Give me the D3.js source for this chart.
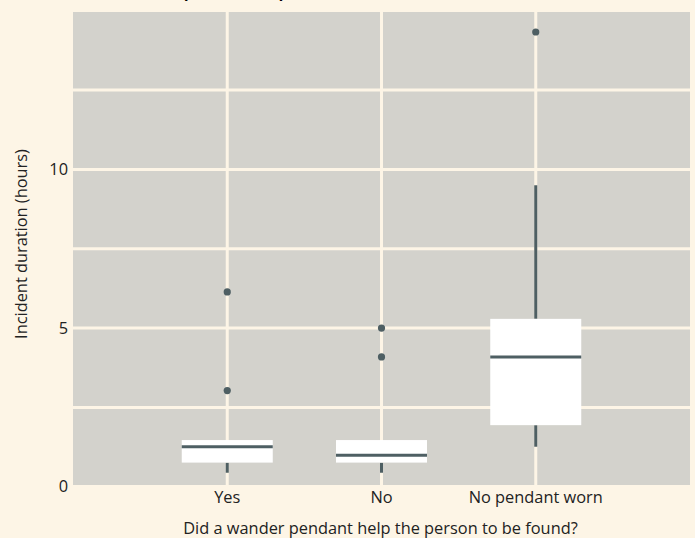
<!DOCTYPE html>
<html>
<head>
<meta charset="utf-8">
<script src="https://cdn.jsdelivr.net/npm/d3@7"></script>
<style>
  body { margin: 0; background: #fdf5e6; }
  svg { display: block; font-family: "Open Sans", "Noto Sans", sans-serif; }
</style>
</head>
<body>
<svg width="695" height="538"></svg>
<script>
// data (hours)
const categories = ['Yes', 'No', 'No pendant worn'];
const lowerWhisker = [0.44, 0.44, 1.26];
const q1 = [0.76, 0.76, 1.94];
const median = [1.26, 0.99, 4.09];
const q3 = [1.47, 1.47, 5.29];
const upperWhisker = [1.47, 1.47, 9.5];
const outliers = [[3.03, 6.14], [4.09, 5.0], [14.33]];
const yTicks = [0, 5, 10];
const yMinor = [2.5, 7.5, 12.5];

const svg = d3.select('svg');
const panel = { left: 73, right: 690, top: 12, bottom: 485 };
const ink = '#4e5f63';
const cream = '#fdf5e6';
const textCol = '#222';

const x = d3.scalePoint()
    .domain(categories)
    .range([panel.left, panel.right])
    .padding(1);
const y = d3.scaleLinear()
    .domain([0.054, 14.96])
    .range([panel.bottom, panel.top]);
const boxW = x.step() * 0.59;

// title, mostly cut off at the top edge like in the original
svg.append('text')
    .attr('x', 74).attr('y', -2)
    .style('font-family', 'Lato, sans-serif')
    .style('font-size', '18px').style('font-weight', 'bold')
    .text('Did a wander pendant help?');

svg.append('rect')
    .attr('x', panel.left).attr('y', panel.top)
    .attr('width', panel.right - panel.left).attr('height', panel.bottom - panel.top)
    .attr('fill', '#d3d2cc');

const grid = svg.append('g').attr('stroke', cream).attr('stroke-width', 3);
grid.selectAll('.h')
    .data(yTicks.concat(yMinor))
    .enter().append('line')
    .attr('x1', panel.left).attr('x2', panel.right)
    .attr('y1', d => y(d)).attr('y2', d => y(d));
grid.selectAll('.v')
    .data(categories)
    .enter().append('line')
    .attr('x1', d => x(d)).attr('x2', d => x(d))
    .attr('y1', panel.top).attr('y2', panel.bottom);

// boxes
const box = svg.append('g').selectAll('g')
    .data(categories)
    .enter().append('g');
box.append('line')
    .attr('x1', d => x(d)).attr('x2', d => x(d))
    .attr('y1', (d, i) => y(lowerWhisker[i])).attr('y2', (d, i) => y(q1[i]))
    .attr('stroke', ink).attr('stroke-width', 3);
box.append('line')
    .attr('x1', d => x(d)).attr('x2', d => x(d))
    .attr('y1', (d, i) => y(upperWhisker[i])).attr('y2', (d, i) => y(q3[i]))
    .attr('stroke', ink).attr('stroke-width', 3);
box.append('rect')
    .attr('x', d => x(d) - boxW / 2).attr('width', boxW)
    .attr('y', (d, i) => y(q3[i]))
    .attr('height', (d, i) => y(q1[i]) - y(q3[i]))
    .attr('fill', '#ffffff');
box.append('line')
    .attr('x1', d => x(d) - boxW / 2).attr('x2', d => x(d) + boxW / 2)
    .attr('y1', (d, i) => y(median[i])).attr('y2', (d, i) => y(median[i]))
    .attr('stroke', ink).attr('stroke-width', 3);
box.selectAll('circle')
    .data((d, i) => outliers[i].map(v => ({ cat: d, v: v })))
    .enter().append('circle')
    .attr('cx', d => x(d.cat)).attr('cy', d => y(d.v))
    .attr('r', 3.6).attr('fill', ink);

// x title first, then size the rest of the labels to match its width
const xTitle = svg.append('text')
    .attr('x', (panel.left + panel.right) / 2 - 1).attr('y', 534)
    .attr('text-anchor', 'middle')
    .style('font-size', '14px').attr('fill', textCol)
    .text('Did a wander pendant help the person to be found?');
const fs = 14 * 395 / xTitle.node().getComputedTextLength();
xTitle.style('font-size', fs + 'px');

svg.append('g').selectAll('text')
    .data(yTicks)
    .enter().append('text')
    .attr('x', 68).attr('y', d => y(d)).attr('dy', '0.35em')
    .attr('text-anchor', 'end')
    .style('font-size', fs + 'px').attr('fill', textCol)
    .text(d => d);
svg.append('g').selectAll('text')
    .data(categories)
    .enter().append('text')
    .attr('x', d => x(d)).attr('y', 503)
    .attr('text-anchor', 'middle')
    .style('font-size', fs + 'px').attr('fill', textCol)
    .text(d => d);

svg.append('text')
    .attr('transform', 'translate(26.5,244) rotate(-90)')
    .attr('text-anchor', 'middle')
    .style('font-size', fs + 'px').attr('fill', textCol)
    .text('Incident duration (hours)');
</script>
</body>
</html>
